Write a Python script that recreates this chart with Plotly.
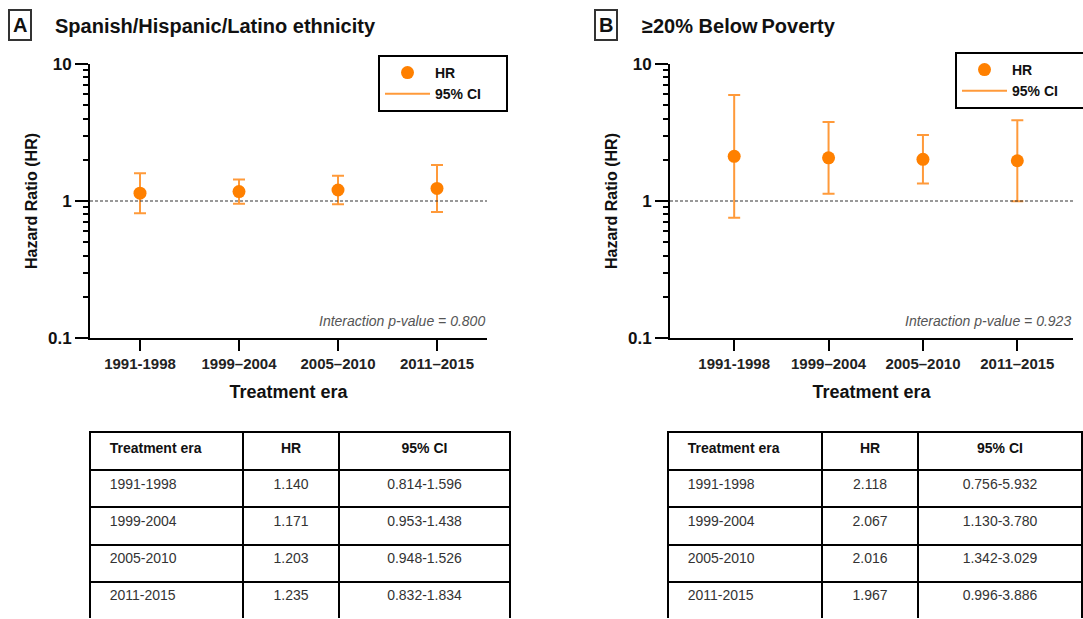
import plotly.graph_objects as go

W, H = 1083, 619

# ---------------- data ----------------
eras_axis = ["1991-1998", "1999\u20132004", "2005\u20132010", "2011\u20132015"]
eras_table = ["1991-1998", "1999-2004", "2005-2010", "2011-2015"]

a_hr = [1.140, 1.171, 1.203, 1.235]
a_lo = [0.814, 0.953, 0.948, 0.832]
a_hi = [1.596, 1.438, 1.526, 1.834]
a_p = "0.800"

b_hr = [2.118, 2.067, 2.016, 1.967]
b_lo = [0.756, 1.130, 1.342, 0.996]
b_hi = [5.932, 3.780, 3.029, 3.886]
b_p = "0.923"

ORANGE = "#FF8000"
ORANGE_BAR = "#FF9A3A"
FONT = "Liberation Sans"

fig = go.Figure()


def px_x(v):
    return v / W


def px_y(v):
    return 1 - v / H


panels = [
    dict(key="", hr=a_hr, lo=a_lo, hi=a_hi, p=a_p, xd=(90, 487), xr=[-0.505, 3.505],
         letter="A", title="Spanish/Hispanic/Latino ethnicity", lx=20, tx=53,
         legend="legend", tab=(90, 510), cw=[153, 96, 171]),
    dict(key="2", hr=b_hr, lo=b_lo, hi=b_hi, p=b_p, xd=(670, 1073), xr=[-0.68, 3.59],
         letter="B", title="\u226520% Below\u2009Poverty", lx=606, tx=640,
         legend="legend2", tab=(668, 1082), cw=[154, 96, 164]),
]

layout_updates = {}
annotations = []
shapes = []

for pnl in panels:
    k = pnl["key"]
    xa, ya = "x" + k, "y" + k
    hr, lo, hi = pnl["hr"], pnl["lo"], pnl["hi"]
    fig.add_trace(go.Scatter(
        x=list(range(len(eras_axis))), y=hr, mode="markers", name="HR",
        xaxis=xa, yaxis=ya, legend=pnl["legend"],
        marker=dict(color=ORANGE, size=13),
        error_y=dict(type="data", symmetric=False,
                     array=[h - m for h, m in zip(hi, hr)],
                     arrayminus=[m - l for m, l in zip(hr, lo)],
                     color=ORANGE_BAR, thickness=2, width=6),
    ))
    fig.add_trace(go.Scatter(
        x=[None], y=[None], mode="lines", name="95% CI\u00a0\u00a0\u00a0\u00a0\u00a0",
        xaxis=xa, yaxis=ya, legend=pnl["legend"],
        line=dict(color=ORANGE_BAR, width=2),
    ))

    layout_updates["xaxis" + k] = dict(
        domain=[px_x(pnl["xd"][0]), px_x(pnl["xd"][1])],
        anchor=ya, range=pnl["xr"], automargin=False,
        tickmode="array", tickvals=list(range(len(eras_axis))), ticktext=eras_axis,
        ticks="outside", ticklen=11, tickwidth=2, tickcolor="black",
        showline=True, linecolor="black", linewidth=2,
        showgrid=False, zeroline=False,
        tickfont=dict(family=FONT, size=15, color="#222", weight="bold"),
        title=dict(text="Treatment era", standoff=14,
                   font=dict(family=FONT, size=18, color="#111", weight="bold")),
    )
    layout_updates["yaxis" + k] = dict(
        domain=[px_y(338), px_y(64)],
        anchor=xa, type="log", range=[-1, 1], automargin=False,
        tickmode="array", tickvals=[0.1, 1, 10], ticktext=["0.1", "1", "10"],
        ticks="outside", ticklen=13, tickwidth=2, tickcolor="black",
        showline=True, linecolor="black", linewidth=2,
        showgrid=False, zeroline=False,
        minor=dict(ticks="outside", ticklen=5, tickwidth=1.5, tickcolor="black",
                   dtick="D1", showgrid=False),
        tickfont=dict(family=FONT, size=17, color="#111", weight="bold"),
        title=dict(text="Hazard Ratio (HR)", standoff=6,
                   font=dict(family=FONT, size=16, color="#111", weight="bold")),
    )

    # reference line at HR = 1
    shapes.append(dict(type="line", xref=xa + " domain", yref=ya, x0=0, x1=1, y0=1, y1=1,
                       line=dict(color="#333", width=1.2, dash="3px,2px")))

    # interaction p-value
    annotations.append(dict(
        text="Interaction p-value = " + pnl["p"], xref=xa + " domain", yref="paper",
        x=1, y=px_y(321), xanchor="right", yanchor="middle", showarrow=False,
        font=dict(family=FONT, size=14, color="#555", style="italic"),
    ))

    # panel letter and title
    annotations.append(dict(
        text="<b>" + pnl["letter"] + "</b>", xref="paper", yref="paper",
        x=px_x(pnl["lx"]), y=px_y(25), xanchor="center", yanchor="middle", showarrow=False,
        font=dict(family=FONT, size=20, color="#111"),
        bordercolor="#333", borderwidth=2, borderpad=3,
    ))
    annotations.append(dict(
        text="<b>" + pnl["title"] + "</b>", xref="paper", yref="paper",
        x=px_x(pnl["tx"]), y=px_y(26), xanchor="left", yanchor="middle", showarrow=False,
        font=dict(family=FONT, size=20, color="#111"),
    ))

    # table
    pad = "\u00a0\u00a0\u00a0"
    fig.add_trace(go.Table(
        domain=dict(x=[px_x(pnl["tab"][0]), px_x(pnl["tab"][1])], y=[0, px_y(432)]),
        columnwidth=pnl["cw"],
        header=dict(
            values=[pad + "<b>Treatment era</b>", "<b>HR</b>", "<b>95% CI</b>"],
            align=["left", "center", "center"], height=38,
            line=dict(color="black", width=2), fill=dict(color="white"),
            font=dict(family=FONT, size=14, color="#111"),
        ),
        cells=dict(
            values=[[pad + e for e in eras_table],
                    [f"{v:.3f}" for v in hr],
                    [f"{l:.3f}-{h:.3f}" for l, h in zip(lo, hi)]],
            align=["left", "center", "center"], height=37.25,
            line=dict(color="black", width=2), fill=dict(color="white"),
            font=dict(family=FONT, size=14, color="#333"),
        ),
    ))

legend_common = dict(
    bordercolor="black", borderwidth=2, bgcolor="white",
    font=dict(family=FONT, size=14, color="#111", weight="bold"),
    itemwidth=45, xanchor="left", yanchor="top", tracegroupgap=0,
)

fig.update_layout(
    width=W, height=H, autosize=False,
    margin=dict(l=0, r=0, t=0, b=0, pad=0, autoexpand=False),
    paper_bgcolor="white", plot_bgcolor="white",
    showlegend=True,
    legend=dict(x=px_x(378), y=px_y(55), **legend_common),
    legend2=dict(x=px_x(955), y=px_y(52), **legend_common),
    annotations=annotations,
    shapes=shapes,
    **layout_updates,
)

fig.write_html(
    "out.html",
    config={"displayModeBar": False},
    post_script="document.body.style.margin='0';document.body.style.overflow='hidden';",
)
